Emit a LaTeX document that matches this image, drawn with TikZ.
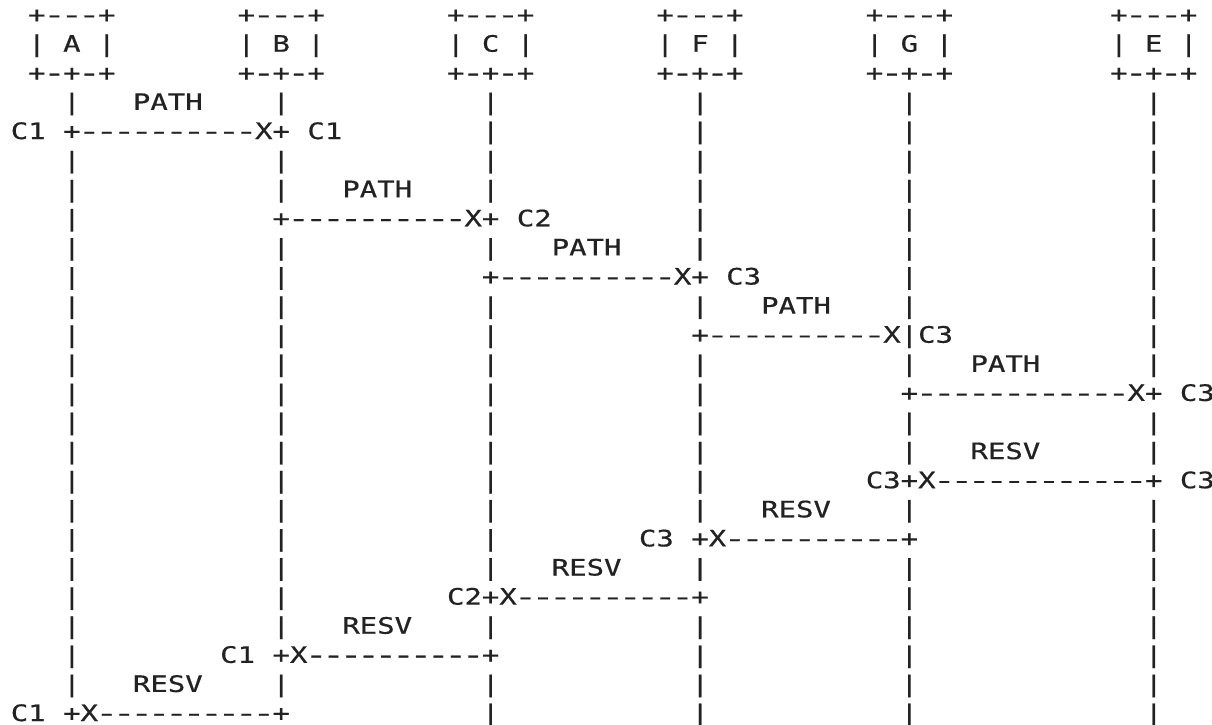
\documentclass[tikz,border=0pt]{standalone}
\usepackage{graphicx}
\usepackage{fontspec}
\newfontfamily\asciifont[FakeStretch=1.2825,FakeBold=0.6]{DejaVu Sans Mono}
\definecolor{ink}{HTML}{222222}
\newlength\gcw
\setlength\gcw{8.725pt}
\newcommand\gcell[1]{\makebox[\gcw][c]{#1}}
\let\gridend\relax
\def\gridrow#1{\gridloop#1\gridend}
\def\gridloop#1{\ifx#1\gridend\else
  \ifx#1.\gcell{}\else
    \ifx#1-\gcell{\scalebox{1.3}[1]{-}}\else\gcell{#1}\fi
  \fi\expandafter\gridloop\fi}
\tikzset{
  asciirow/.style={anchor=base west, inner sep=0pt, outer sep=0pt, text=ink,
    font=\asciifont\fontsize{11.3pt}{13.6pt}\selectfont}
}
\begin{document}
\begin{tikzpicture}[x=0.5pt,y=-0.5pt]
\useasboundingbox (0,0) rectangle (1212,724);
\fill[white] (0,0) rectangle (1212,724);
\clip (0,0) rectangle (1212,724);
\node[asciirow] (l0)  at (10.775, 22.6) {\gridrow{.+---+.......+---+.......+---+.......+---+.......+---+.........+---+}};
\node[asciirow] (l1)  at (10.775, 51.7) {\gridrow{.|.A.|.......|.B.|.......|.C.|.......|.F.|.......|.G.|.........|.E.|}};
\node[asciirow] (l2)  at (10.775, 80.8) {\gridrow{.+-+-+.......+-+-+.......+-+-+.......+-+-+.......+-+-+.........+-+-+}};
\node[asciirow] (l3)  at (10.775,109.9) {\gridrow{...|...PATH....|...........|...........|...........|.............|}};
\node[asciirow] (l4)  at (10.775,139.0) {\gridrow{C1.+----------X+.C1........|...........|...........|.............|}};
\node[asciirow] (l5)  at (10.775,168.1) {\gridrow{...|...........|...........|...........|...........|.............|}};
\node[asciirow] (l6)  at (10.775,197.2) {\gridrow{...|...........|...PATH....|...........|...........|.............|}};
\node[asciirow] (l7)  at (10.775,226.3) {\gridrow{...|...........+----------X+.C2........|...........|.............|}};
\node[asciirow] (l8)  at (10.775,255.4) {\gridrow{...|...........|...........|...PATH....|...........|.............|}};
\node[asciirow] (l9)  at (10.775,284.5) {\gridrow{...|...........|...........+----------X+.C3........|.............|}};
\node[asciirow] (l10) at (10.775,313.6) {\gridrow{...|...........|...........|...........|...PATH....|.............|}};
\node[asciirow] (l11) at (10.775,342.7) {\gridrow{...|...........|...........|...........+----------X|C3...........|}};
\node[asciirow] (l12) at (10.775,371.8) {\gridrow{...|...........|...........|...........|...........|...PATH......|}};
\node[asciirow] (l13) at (10.775,400.9) {\gridrow{...|...........|...........|...........|...........+------------X+.C3}};
\node[asciirow] (l14) at (10.775,430.0) {\gridrow{...|...........|...........|...........|...........|.............|}};
\node[asciirow] (l15) at (10.775,459.1) {\gridrow{...|...........|...........|...........|...........|...RESV......|}};
\node[asciirow] (l16) at (10.775,488.2) {\gridrow{...|...........|...........|...........|.........C3+X------------+.C3}};
\node[asciirow] (l17) at (10.775,517.3) {\gridrow{...|...........|...........|...........|...RESV....|.............|}};
\node[asciirow] (l18) at (10.775,546.4) {\gridrow{...|...........|...........|........C3.+X----------+.............|}};
\node[asciirow] (l19) at (10.775,575.5) {\gridrow{...|...........|...........|...RESV....|...........|.............|}};
\node[asciirow] (l20) at (10.775,604.6) {\gridrow{...|...........|.........C2+X----------+...........|.............|}};
\node[asciirow] (l21) at (10.775,633.7) {\gridrow{...|...........|...RESV....|...........|...........|.............|}};
\node[asciirow] (l22) at (10.775,662.8) {\gridrow{...|........C1.+X----------+...........|...........|.............|}};
\node[asciirow] (l23) at (10.775,691.9) {\gridrow{...|...RESV....|...........|...........|...........|.............|}};
\node[asciirow] (l24) at (10.775,721.0) {\gridrow{C1.+X----------+...........|...........|...........|.............|}};
\end{tikzpicture}
\end{document}
